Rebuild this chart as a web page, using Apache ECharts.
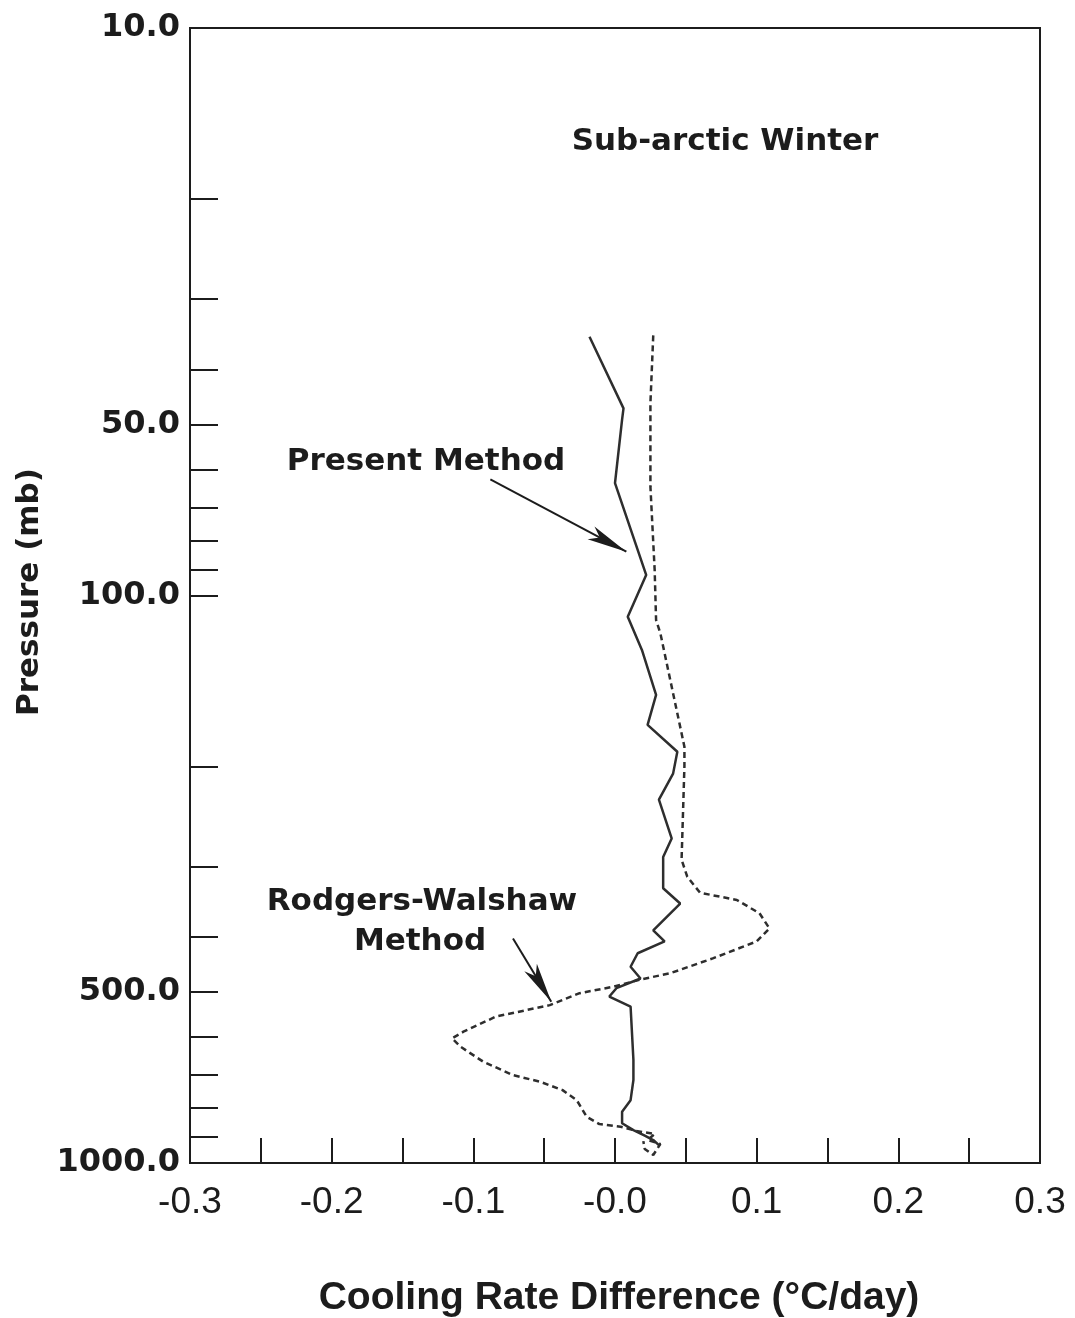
<!DOCTYPE html>
<html>
<head>
<meta charset="utf-8">
<title>Sub-arctic Winter cooling rate difference</title>
<script src="https://cdn.jsdelivr.net/npm/echarts@6/dist/echarts.min.js"></script>
<style>
  html, body { margin: 0; padding: 0; background: #ffffff; }
  #chart { width: 1075px; height: 1318px; }
</style>
</head>
<body>
<div id="chart"></div>
<script>
// Cooling rate difference (°C/day) versus pressure (mb)
const presentDiff = [-0.018, 0.006, 0.005, 0.000, 0.022, 0.009, 0.019, 0.029, 0.023, 0.044,
  0.041, 0.031, 0.040, 0.034, 0.034, 0.046, 0.027, 0.035, 0.016, 0.011,
  0.018, 0.001, -0.004, 0.011, 0.013, 0.013, 0.011, 0.005, 0.005, 0.013,
  0.021, 0.027, 0.031];
const presentPressure = [35, 46.8, 49, 63.4, 92, 109, 124.7, 149.7, 169, 188.5,
  206, 229, 268, 289, 328, 349, 389, 407, 427, 451,
  473, 492, 509, 530, 658, 714, 775, 812, 851, 875,
  895, 911, 930];

const rwDiff = [0.027, 0.025, 0.025, 0.028, 0.029, 0.032, 0.049, 0.049, 0.047, 0.051,
  0.060, 0.086, 0.102, 0.109, 0.100, 0.069, 0.039, 0.018, -0.001, -0.025,
  -0.046, -0.084, -0.107, -0.115, -0.109, -0.093, -0.072, -0.053, -0.037, -0.027,
  -0.020, -0.011, 0.004, 0.015, 0.028, 0.023, 0.032, 0.027, 0.021, 0.020];
const rwPressure = [34.8, 45.8, 64.3, 90.2, 110.5, 116.5, 184.7, 200, 292, 313,
  334, 344, 363, 386, 407, 436, 463, 475, 489, 502,
  527, 552, 587, 603, 624, 663, 700, 719, 744, 775,
  829, 854, 863, 878, 889, 911, 926, 968, 945, 915];

// Axis ticks and labels
const pressureLabels = [10, 50, 100, 500, 1000];
const pressureTicks = [20, 30, 40, 50, 60, 70, 80, 90, 100, 200, 300, 400, 500, 600, 700, 800, 900];
const diffLabels = [-0.3, -0.2, -0.1, 0, 0.1, 0.2, 0.3];
const diffTicks = [-0.25, -0.2, -0.15, -0.1, -0.05, 0, 0.05, 0.1, 0.15, 0.2, 0.25];

// Pointer arrows from the annotations to the curves: [diff, pressure]
const presentArrow = [[-0.088, 62.4], [0.008, 83.7]];
const rwArrow = [[-0.072, 402], [-0.045, 520]];

const zip = (xs, ys) => xs.map((x, i) => [x, ys[i]]);

const INK = '#1c1c1c';
const LINE = '#2e2e2e';

const arrowLine = (pts) => ({
  silent: true,
  animation: false,
  symbol: ['none', 'arrow'],
  symbolSize: 40,
  label: { show: false },
  lineStyle: { type: 'solid', color: INK, width: 2 },
  emphasis: { disabled: true },
  data: [[
    { coord: pts[0], symbol: 'none' },
    { coord: pts[1], symbol: 'arrow', symbolSize: [11, 40] }
  ]]
});

const chart = echarts.init(document.getElementById('chart'), null, { renderer: 'canvas' });

chart.setOption({
  backgroundColor: '#ffffff',
  animation: false,
  grid: {
    left: 190, right: 35, top: 28, bottom: 155,
    show: true, borderColor: INK, borderWidth: 2, backgroundColor: 'transparent'
  },
  xAxis: {
    type: 'value',
    min: -0.3, max: 0.3, interval: 0.05,
    splitLine: { show: false },
    axisLine: { onZero: false, lineStyle: { color: INK, width: 2 } },
    axisTick: { inside: true, length: 25, lineStyle: { color: INK, width: 2 }, customValues: diffTicks },
    axisLabel: {
      customValues: diffLabels,
      margin: 21,
      color: INK,
      fontFamily: '"Liberation Sans", Arial, sans-serif',
      fontSize: 37,
      formatter: (v) => Math.abs(v) < 1e-9 ? '-0.0' : v.toFixed(1)
    }
  },
  yAxis: {
    type: 'log',
    logBase: 10,
    inverse: true,
    min: 10, max: 1000,
    splitLine: { show: false },
    minorTick: { show: false },
    axisLine: { onZero: false, lineStyle: { color: INK, width: 2 } },
    axisTick: { inside: true, length: 28, lineStyle: { color: INK, width: 2 }, customValues: pressureTicks },
    axisLabel: {
      customValues: pressureLabels,
      margin: 10,
      color: INK,
      fontFamily: '"DejaVu Sans", sans-serif',
      fontWeight: 'bold',
      fontSize: 32,
      formatter: (v) => Number(v).toFixed(1)
    }
  },
  series: [
    {
      name: 'Present Method',
      type: 'line',
      data: zip(presentDiff, presentPressure),
      showSymbol: false,
      symbol: 'none',
      lineStyle: { color: LINE, width: 2.5, type: 'solid' },
      z: 3,
      markLine: arrowLine(presentArrow)
    },
    {
      name: 'Rodgers-Walshaw Method',
      type: 'line',
      data: zip(rwDiff, rwPressure),
      showSymbol: false,
      symbol: 'none',
      lineStyle: { color: LINE, width: 2.5, type: [6, 4] },
      z: 3,
      markLine: arrowLine(rwArrow)
    }
  ],
  graphic: [
    {
      type: 'text', x: 725, y: 142,
      style: { text: 'Sub-arctic Winter', font: 'bold 31px "DejaVu Sans", sans-serif', fill: INK, align: 'center', verticalAlign: 'middle' }
    },
    {
      type: 'text', x: 426, y: 462,
      style: { text: 'Present Method', font: 'bold 31px "DejaVu Sans", sans-serif', fill: INK, align: 'center', verticalAlign: 'middle' }
    },
    {
      type: 'text', x: 422, y: 902,
      style: { text: 'Rodgers-Walshaw', font: 'bold 31px "DejaVu Sans", sans-serif', fill: INK, align: 'center', verticalAlign: 'middle' }
    },
    {
      type: 'text', x: 420, y: 942,
      style: { text: 'Method', font: 'bold 31px "DejaVu Sans", sans-serif', fill: INK, align: 'center', verticalAlign: 'middle' }
    },
    {
      type: 'text', x: 30, y: 592, rotation: Math.PI / 2,
      style: { text: 'Pressure (mb)', font: 'bold 31px "DejaVu Sans", sans-serif', fill: INK, align: 'center', verticalAlign: 'middle' }
    },
    {
      type: 'text', x: 619, y: 1298,
      style: { text: 'Cooling Rate Difference (°C/day)', font: 'bold 39px "Liberation Sans", Arial, sans-serif', fill: INK, align: 'center', verticalAlign: 'middle' }
    }
  ]
});
</script>
</body>
</html>
